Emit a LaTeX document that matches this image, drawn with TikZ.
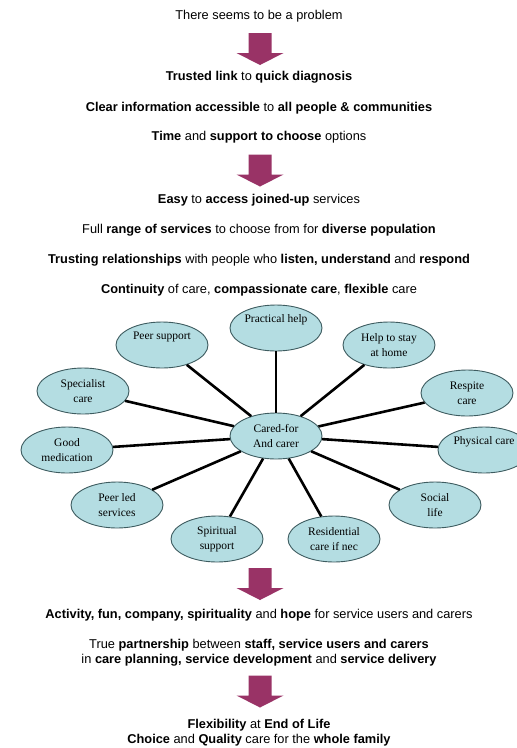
\documentclass[tikz,border=0pt]{standalone}
\usepackage{fontspec}
\setmainfont{Liberation Sans}
\newfontfamily\bubblefont{Liberation Serif}
\usetikzlibrary{shapes.geometric}
\definecolor{plum}{RGB}{153,51,102}
\definecolor{bubblefill}{RGB}{180,221,226}
\definecolor{bubbleline}{RGB}{62,92,96}

\begin{document}
\begin{tikzpicture}[x=1pt, y=-1pt,
    caption/.style={font=\fontsize{12.8}{15.5}\selectfont, align=center, inner sep=0pt},
    bubble/.style={ellipse, draw=bubbleline, line width=0.9pt, fill=bubblefill, minimum width=92pt, minimum height=46pt, inner sep=0pt, align=center, font=\bubblefont\fontsize{11.5}{14.5}\selectfont},
    spoke/.style={line width=2.6pt, black},
    downblock/.pic={\fill[plum] (-11.5,-16) -- (11.5,-16) -- (11.5,4) -- (23.5,4) -- (0,16) -- (-23.5,4) -- (-11.5,4) -- cycle;}]

    \useasboundingbox (0,0) rectangle (517,748);

    \node[caption] (problem) at (259,16) {There seems to be a problem};
    \pic (arrA) at (260,49) {downblock};

    \node[caption] (trust) at (259,77) {\textbf{Trusted link} to \textbf{quick diagnosis}};
    \node[caption] (clear) at (259,108) {\textbf{Clear information accessible} to \textbf{all people \& communities}};
    \node[caption] (time) at (259,137) {\textbf{Time} and \textbf{support to choose} options};
    \pic (arrB) at (260,170.5) {downblock};

    \node[caption] (easy) at (259,200) {\textbf{Easy} to \textbf{access joined-up} services};
    \node[caption] (range) at (259,230) {Full \textbf{range of services} to choose from for \textbf{diverse population}};
    \node[caption] (relate) at (259,260) {\textbf{Trusting relationships} with people who \textbf{listen, understand} and \textbf{respond}};
    \node[caption] (contin) at (259,290) {\textbf{Continuity} of care, \textbf{compassionate care}, \textbf{flexible} care};

    \node[bubble] (cared) at (276,436) {Cared-for\\And carer};
    \foreach \n/\x/\y/\t in {prac/276/328/{Practical help\\\strut}, peer/162/345/{Peer support\\\strut},
            home/389/345/{Help to stay\\at home}, spec/83/391/{Specialist\\care}, resp/467/393/{Respite\\care},
            meds/67/450/{Good\\medication}, phys/484/450/{Physical care\\\strut}, peled/117/505/{Peer led\\services},
            soc/435/505/{Social\\life}, spir/217/539/{Spiritual\\support}, resid/334/539/{Residential\\care if nec}}{
        \node[bubble] (\n) at (\x,\y) {\t};
    }
    \foreach \n in {prac,peer,home,spec,resp,meds,phys,peled,soc,spir,resid}
        \draw[spoke] (cared) -- (\n);

    \pic (arrC) at (260,584) {downblock};
    \node[caption] (activity) at (259,615) {\textbf{Activity, fun, company, spirituality} and \textbf{hope} for service users and carers};
    \node[caption] (partner) at (259,652.5) {True \textbf{partnership} between \textbf{staff, service users and carers}\\in \textbf{care planning, service development} and \textbf{service delivery}};
    \pic (arrD) at (260,691.5) {downblock};
    \node[caption] (flex) at (259,732.5) {\textbf{Flexibility} at \textbf{End of Life}\\\textbf{Choice} and \textbf{Quality} care for the \textbf{whole family}};

\end{tikzpicture}
\end{document}
